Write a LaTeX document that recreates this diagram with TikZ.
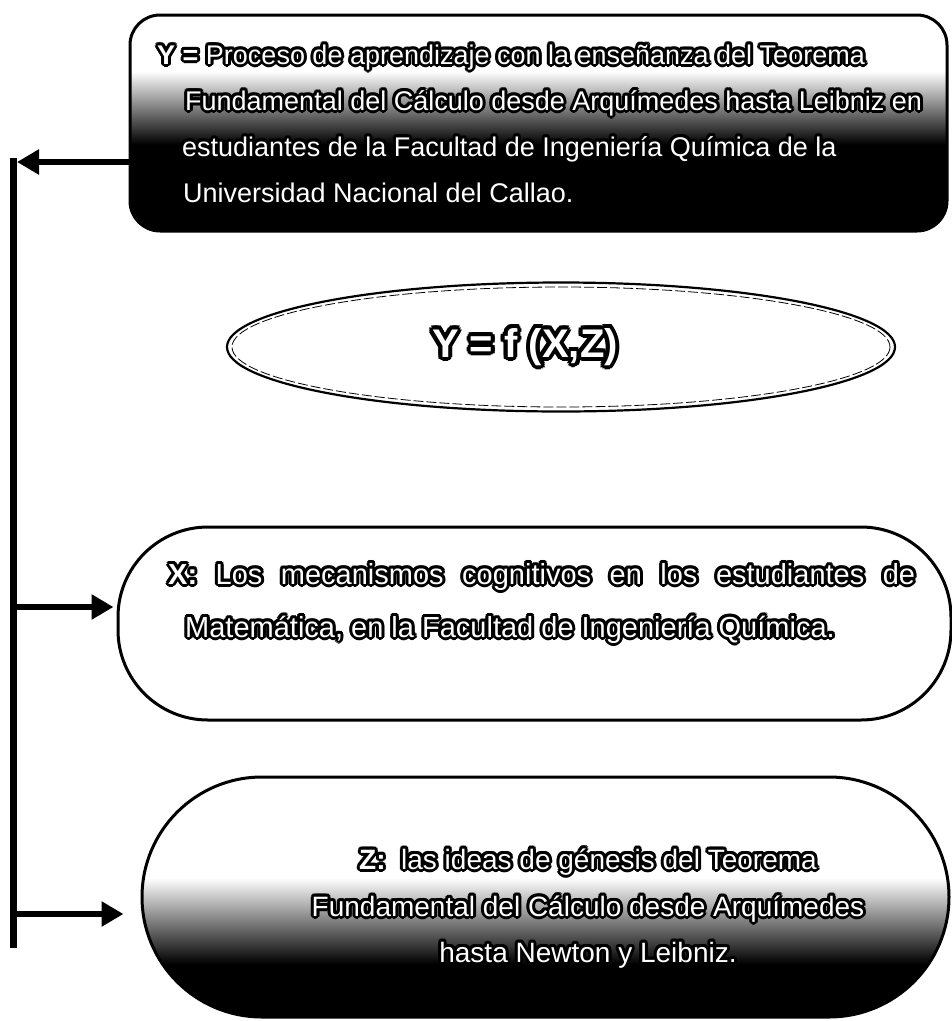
\documentclass[tikz,border=0pt]{standalone}
\usepackage{fontspec}
\setmainfont{Liberation Sans}
\usetikzlibrary{arrows.meta,shapes.geometric}

% white lettering with a black outline, built from shifted black copies
\newlength\halor
\newlength\halorin
\setlength\halor{3pt}
\newcommand\halocopy[3]{\rlap{\kern#1\raisebox{#2}{\color{black}#3}}}
\newcommand\haloring[2]{%
  \halocopy{#1}{0pt}{#2}%
  \halocopy{0.866#1}{0.5#1}{#2}%
  \halocopy{0.5#1}{0.866#1}{#2}%
  \halocopy{0pt}{#1}{#2}%
  \halocopy{-0.5#1}{0.866#1}{#2}%
  \halocopy{-0.866#1}{0.5#1}{#2}%
  \halocopy{-#1}{0pt}{#2}%
  \halocopy{-0.866#1}{-0.5#1}{#2}%
  \halocopy{-0.5#1}{-0.866#1}{#2}%
  \halocopy{0pt}{-#1}{#2}%
  \halocopy{0.5#1}{-0.866#1}{#2}%
  \halocopy{0.866#1}{-0.5#1}{#2}}
\newcommand\halo[1]{\setlength\halorin{0.5\halor}%
  \haloring{\halor}{#1}\haloring{\halorin}{#1}{\color{white}#1}}

% white at the top fading to black at the bottom
\pgfdeclareverticalshading{yfade}{100bp}{color(0bp)=(black); color(45bp)=(black); color(62bp)=(white); color(100bp)=(white)}
\pgfdeclareverticalshading{zfade}{100bp}{color(0bp)=(black); color(36bp)=(black); color(54bp)=(white); color(100bp)=(white)}

\begin{document}
\begin{tikzpicture}[x=1pt,y=-1pt,
  panel/.style={draw=black, line width=3pt, inner sep=0pt},
  bus/.style={line width=7pt},
  arr/.style={line width=6pt, -{Triangle[length=22pt,width=24pt]}},
  bodytext/.style={inner sep=0pt, font=\fontsize{27}{27}\selectfont, anchor=base west},
  xtext/.style={inner sep=0pt, font=\fontsize{29}{29}\selectfont, anchor=base west},
  ztext/.style={inner sep=0pt, font=\fontsize{28}{28}\selectfont, anchor=base},
  formula/.style={inner sep=0pt, font=\bfseries\fontsize{40}{40}\selectfont}]
\useasboundingbox (0,0) rectangle (952,1021);
\fill[white] (0,0) rectangle (952,1021);

% the three panels and the ellipse
\node[panel, shading=yfade, rounded corners=30pt, minimum width=817pt, minimum height=216pt] (ybox) at (538.5,123) {};
\node[ellipse, draw=black, line width=2.2pt, inner sep=0pt, minimum width=668pt, minimum height=129pt] (fbox) at (561,347) {};
\draw[dashed, line width=0.8pt, dash pattern=on 10pt off 3pt] (fbox.center) ellipse [x radius=329, y radius=60];
\node[panel, fill=white, rounded corners=90pt, minimum width=833pt, minimum height=193pt] (xbox) at (534.5,623.5) {};
\node[panel, shading=zfade, rounded corners=120pt, minimum width=807pt, minimum height=240pt] (zbox) at (545.5,897) {};

% texts
\node[bodytext] (y1) at (157,64) {\halo{\textbf{Y =} Proceso de aprendizaje con la enseñanza del Teorema}};
\node[bodytext] (y2) at (185,110) {\halo{Fundamental del Cálculo desde Arquímedes hasta Leibniz en}};
\node[bodytext] (y3) at (182,156) {\halo{estudiantes de la Facultad de Ingeniería Química de la}};
\node[bodytext] (y4) at (183,202) {\halo{Universidad Nacional del Callao.}};

\node[formula] (ftext) at (525,347) {\setlength\halor{4pt}\halo{Y = f (X,Z)}};

\node[xtext] (x1) at (168,584) {\halo{\makebox[747pt][s]{\textbf{X:} Los mecanismos cognitivos en los estudiantes de}}};
\node[xtext] (x2) at (185,637) {\halo{Matemática, en la Facultad de Ingeniería Química.}};

\node[ztext] (z1) at (588,869) {\halo{\textbf{Z:}\ \ las ideas de génesis del Teorema}};
\node[ztext] (z2) at (588,916) {\halo{Fundamental del Cálculo desde Arquímedes}};
\node[ztext] (z3) at (588,962) {\halo{hasta Newton y Leibniz.}};

% connector bus on the left
\coordinate (busTop) at (13,158);
\coordinate (busBot) at (13,948);
\coordinate (yIn) at (17,162);
\coordinate (xOut) at (13,607);
\coordinate (zOut) at (13,914);
\draw[bus] (busTop) -- (busBot);
\draw[arr] (ybox.west |- yIn) -- (yIn);
\draw[arr, shorten >=3pt] (xOut) -- (xbox.west |- xOut);
\draw[arr, shorten >=17pt] (zOut) -- (zbox.west |- zOut);
\end{tikzpicture}
\end{document}
